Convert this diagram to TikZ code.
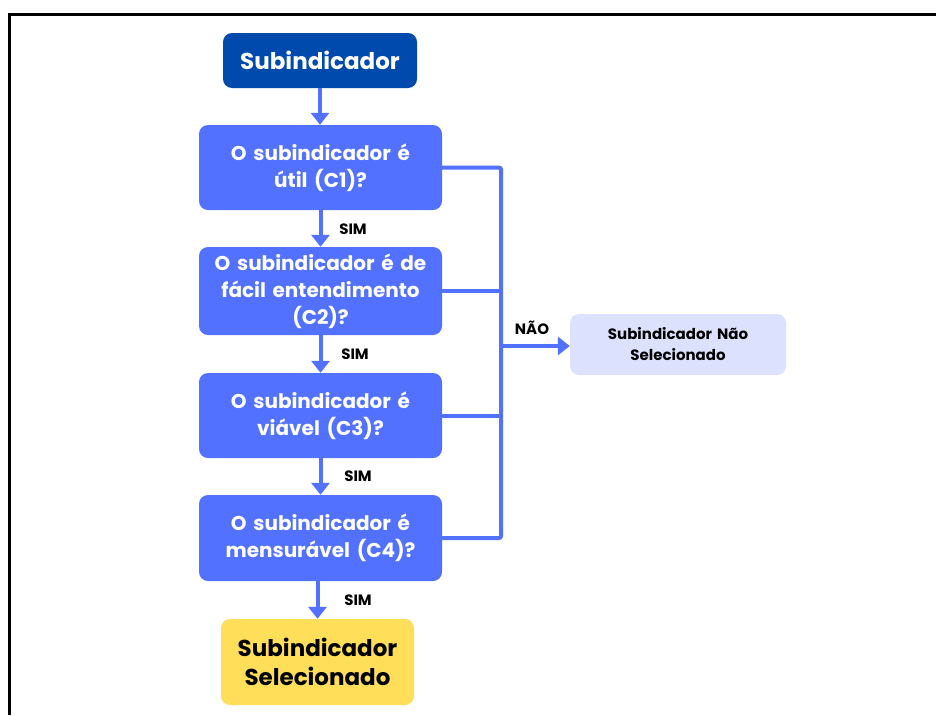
\documentclass[tikz,border=0pt]{standalone}
\usepackage{fontspec}
\setmainfont{Poppins}
\usetikzlibrary{arrows.meta}
\definecolor{dblue}{HTML}{004AAD}
\definecolor{mblue}{HTML}{5271FF}
\definecolor{lblue}{HTML}{DCE2FD}
\definecolor{ylw}{HTML}{FFDE59}
\begin{document}
\begin{tikzpicture}[x=1pt,y=-1pt,
  box/.style={rounded corners=9pt, inner sep=0pt, align=center, text width=#1},
  qbox/.style={box=240pt, fill=mblue, text=white, minimum width=243pt, font=\fontsize{20}{27}\selectfont\bfseries},
  conn/.style={draw=mblue, line width=4pt},
  arr/.style={conn, -{Triangle[width=18pt,length=12pt]}},
  lbl/.style={font=\fontsize{15}{17}\selectfont\bfseries, text=black}]
\useasboundingbox (0,0) rectangle (936,715);
\draw[line width=3pt] (9,715) -- (9,14) -- (936,14);

\node[box=190pt, fill=dblue, text=white, minimum width=194pt, minimum height=55pt,
      font=\fontsize{23}{28}\selectfont\bfseries] (top) at (320,60.5) {Subindicador};
\node[qbox, minimum height=85pt] (c1) at (320.5,167.5) {O subindicador é\\útil (C1)?};
\node[qbox, minimum height=88pt] (c2) at (320.5,291) {O subindicador é de\\fácil entendimento\\(C2)?};
\node[qbox, minimum height=85pt] (c3) at (320.5,415.5) {O subindicador é\\viável (C3)?};
\node[qbox, minimum height=86pt] (c4) at (320.5,538) {O subindicador é\\mensurável (C4)?};
\node[box=190pt, fill=ylw, text=black, minimum width=193pt, minimum height=86pt,
      font=\fontsize{23}{29}\selectfont\bfseries] (fin) at (317.5,662) {Subindicador\\Selecionado};
\node[box=212pt, fill=lblue, text=black, minimum width=216pt, minimum height=61pt,
      font=\fontsize{15}{21}\selectfont\bfseries] (ns) at (678,344.5) {Subindicador Não\\Selecionado};

\coordinate (jt) at (501,167.5);
\coordinate (jb) at (501,538);
\coordinate (jm) at (501,346);

\draw[arr] (top.south) -- (top.south |- c1.north);
\draw[arr] (c1.south) -- (c1.south |- c2.north);
\draw[arr] (c2.south) -- (c2.south |- c3.north);
\draw[arr] (c3.south) -- (c3.south |- c4.north);
\draw[arr] (c4.south -| fin.north) -- (fin.north);

\draw[conn, rounded corners=2pt] (c1.east) -- (jt) -- (jb) -- (c4.east);
\draw[conn] (c2.east) -- (c2.east -| jt);
\draw[conn] (c3.east) -- (c3.east -| jt);
\draw[arr] (jm) -- (jm -| ns.west);

\node[lbl] (s1) at (353,229) {SIM};
\node[lbl] (s2) at (355,354) {SIM};
\node[lbl] (s3) at (358,476) {SIM};
\node[lbl] (s4) at (358,600) {SIM};
\node[lbl] (nao) at (532,328) {NÃO};
\end{tikzpicture}
\end{document}
